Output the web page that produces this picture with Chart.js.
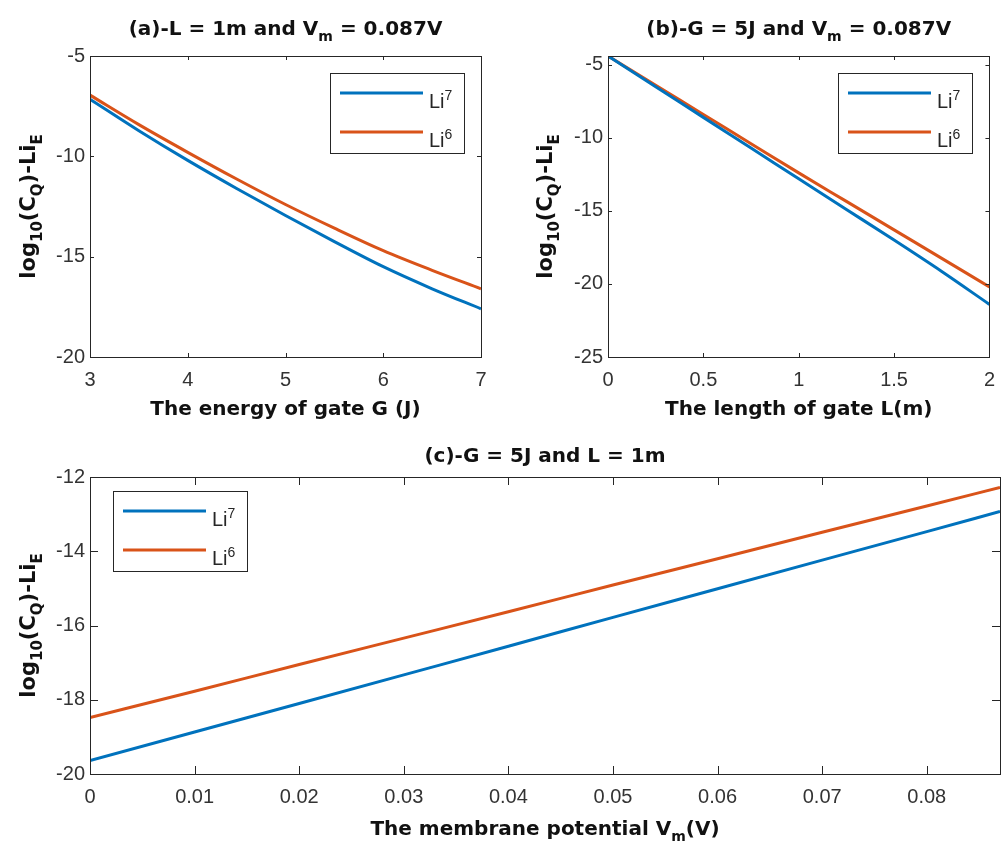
<!DOCTYPE html>
<html>
<head>
<meta charset="utf-8">
<script src="https://cdn.jsdelivr.net/npm/chart.js@4.4.1/dist/chart.umd.min.js"></script>
<style>
  html, body { margin: 0; padding: 0; background: #fff; }
  #wrap { position: relative; width: 1006px; height: 843px; overflow: hidden; background: #fff; }
  #wrap canvas { position: absolute; }
</style>
</head>
<body>
<div id="wrap">
  <canvas id="panelA" width="500" height="430" style="left:0;top:0"></canvas>
  <canvas id="panelB" width="506" height="430" style="left:500px;top:0"></canvas>
  <canvas id="panelC" width="1006" height="423" style="left:0;top:420px"></canvas>
</div>
<script>
// ---- (a) sweep of the gate energy G, with L = 1 m and Vm = 0.087 V ----
const energyG   = [3, 3.5, 4, 4.5, 5, 5.5, 6, 6.5, 7];
const energyLi7 = [-7.15, -8.72, -10.2, -11.6, -12.95, -14.25, -15.5, -16.6, -17.6];
const energyLi6 = [-6.95, -8.42, -9.8, -11.13, -12.4, -13.58, -14.7, -15.68, -16.6];
const energyTicksX = [3, 4, 5, 6, 7];
const energyTicksY = [-20, -15, -10, -5];

// ---- (b) sweep of the gate length L, with G = 5 J and Vm = 0.087 V ----
const lengthL   = [0, 0.25, 0.5, 0.75, 1, 1.25, 1.5, 1.75, 2];
const lengthLi7 = [-4.4, -6.5, -8.6, -10.7, -12.8, -14.9, -17.0, -19.15, -21.4];
const lengthLi6 = [-4.4, -6.4, -8.4, -10.4, -12.4, -14.35, -16.3, -18.25, -20.2];
const lengthTicksX = [0, 0.5, 1, 1.5, 2];
const lengthTicksY = [-25, -20, -15, -10, -5];

// ---- (c) sweep of the membrane potential Vm, with G = 5 J and L = 1 m ----
const potentialV   = [0, 0.01, 0.02, 0.03, 0.04, 0.05, 0.06, 0.07, 0.08, 0.087];
const potentialLi7 = [-19.64, -18.87, -18.10, -17.33, -16.56, -15.78, -15.01, -14.24, -13.47, -12.93];
const potentialLi6 = [-18.48, -17.77, -17.05, -16.34, -15.63, -14.91, -14.20, -13.49, -12.78, -12.28];
const potentialTicksX = [0, 0.01, 0.02, 0.03, 0.04, 0.05, 0.06, 0.07, 0.08];
const potentialTicksY = [-20, -18, -16, -14, -12];

const seriesNames = ['Li^{7}', 'Li^{6}'];
const seriesColors = ['#0072BD', '#D95319'];

const AXIS_COLOR = '#262626';
const BOLD_FAMILY = '"DejaVu Sans", "Liberation Sans", sans-serif';
const PLAIN_FAMILY = '"Liberation Sans", Arial, sans-serif';

// Split "a_{b}c^{d}" into runs of normal, subscript and superscript text
function parseRich(str) {
  const segs = [];
  let buf = '', i = 0;
  while (i < str.length) {
    const c = str[i];
    if ((c === '_' || c === '^') && str[i + 1] === '{') {
      if (buf) { segs.push({ t: buf, m: 0 }); buf = ''; }
      const end = str.indexOf('}', i);
      segs.push({ t: str.slice(i + 2, end), m: c === '_' ? 1 : -1 });
      i = end + 1;
    } else { buf += c; i++; }
  }
  if (buf) segs.push({ t: buf, m: 0 });
  return segs;
}

function drawRich(ctx, str, x, y, f, align) {
  const segs = parseRich(str);
  const fontOf = m => `${f.weight} ${m ? Math.round(f.size * 0.72) : f.size}px ${f.family}`;
  let w = 0;
  segs.forEach(s => { ctx.font = fontOf(s.m); s.w = ctx.measureText(s.t).width; w += s.w; });
  let cx = align === 'center' ? x - w / 2 : align === 'right' ? x - w : x;
  ctx.textAlign = 'left';
  ctx.textBaseline = 'alphabetic';
  segs.forEach(s => {
    ctx.font = fontOf(s.m);
    const dy = s.m === 1 ? f.size * 0.32 : s.m === -1 ? -f.size * 0.42 : 0;
    ctx.fillText(s.t, cx, y + dy);
    cx += s.w;
  });
  return w;
}

function measureRich(ctx, str, f) {
  let w = 0;
  parseRich(str).forEach(s => {
    ctx.font = `${f.weight} ${s.m ? Math.round(f.size * 0.72) : f.size}px ${f.family}`;
    w += ctx.measureText(s.t).width;
  });
  return w;
}

// Boxed axes with inward ticks on all four sides, titles and an inset legend
const matlabFrame = {
  id: 'matlabFrame',
  afterDatasetsDraw(chart, args, o) {
    const { ctx, chartArea: a, scales: { x, y } } = chart;
    ctx.save();
    ctx.strokeStyle = AXIS_COLOR;
    ctx.lineWidth = 1;
    ctx.beginPath();
    x.ticks.forEach(t => {
      const px = Math.round(x.getPixelForValue(t.value)) + 0.5;
      ctx.moveTo(px, a.bottom); ctx.lineTo(px, a.bottom - o.tickLen);
      ctx.moveTo(px, a.top); ctx.lineTo(px, a.top + o.tickLen);
    });
    y.ticks.forEach(t => {
      const py = Math.round(y.getPixelForValue(t.value)) + 0.5;
      ctx.moveTo(a.left, py); ctx.lineTo(a.left + o.tickLen, py);
      ctx.moveTo(a.right, py); ctx.lineTo(a.right - o.tickLen, py);
    });
    ctx.stroke();
    const L = Math.round(a.left) + 0.5, T = Math.round(a.top) + 0.5;
    ctx.strokeRect(L, T, Math.round(a.right - a.left), Math.round(a.bottom - a.top));

    ctx.fillStyle = '#111';
    const boldF = { weight: 'bold', size: 20, family: BOLD_FAMILY };
    const cx = (a.left + a.right) / 2;
    drawRich(ctx, o.title, cx, o.titleY, boldF, 'center');
    drawRich(ctx, o.xLabel, cx, o.xLabelY, boldF, 'center');
    ctx.save();
    ctx.translate(o.yLabelX, (a.top + a.bottom) / 2);
    ctx.rotate(-Math.PI / 2);
    drawRich(ctx, o.yLabel, 0, 0, { weight: 'bold', size: 21, family: BOLD_FAMILY }, 'center');
    ctx.restore();

    // legend
    const lg = o.legend;
    const textF = { weight: 'normal', size: 20, family: PLAIN_FAMILY };
    const sets = chart.data.datasets;
    let tw = 0;
    sets.forEach(d => { tw = Math.max(tw, measureRich(ctx, d.label, textF)); });
    const bw = Math.round(10 + 83 + 6 + tw + 12), bh = 80;
    const bx = lg.corner === 'ne' ? Math.round(a.right - lg.dx - bw) : Math.round(a.left + lg.dx);
    const by = Math.round(a.top + lg.dy);
    ctx.fillStyle = '#fff';
    ctx.fillRect(bx, by, bw, bh);
    ctx.strokeStyle = AXIS_COLOR;
    ctx.lineWidth = 1;
    ctx.strokeRect(bx + 0.5, by + 0.5, bw, bh);
    sets.forEach((d, i) => {
      const ly = by + 20 + i * 39;
      ctx.strokeStyle = d.borderColor;
      ctx.lineWidth = d.borderWidth;
      ctx.beginPath();
      ctx.moveTo(bx + 10, ly); ctx.lineTo(bx + 93, ly);
      ctx.stroke();
      ctx.fillStyle = AXIS_COLOR;
      drawRich(ctx, d.label, bx + 99, ly + 15, textF, 'left');
    });
    ctx.restore();
  }
};

function makePanel(id, xs, s7, s6, cfg) {
  const sets = [s7, s6].map((s, k) => ({
    label: seriesNames[k],
    data: xs.map((v, i) => ({ x: v, y: s[i] })),
    borderColor: seriesColors[k],
    backgroundColor: seriesColors[k],
    borderWidth: 3,
    pointRadius: 0,
    fill: false,
    cubicInterpolationMode: 'monotone'
  }));
  const tickFont = { family: PLAIN_FAMILY, size: 20 };
  return new Chart(document.getElementById(id), {
    type: 'line',
    data: { datasets: sets },
    options: {
      responsive: false,
      animation: false,
      devicePixelRatio: 1,
      layout: { padding: { top: cfg.padTop, right: cfg.padRight, left: 0, bottom: 0 } },
      plugins: {
        legend: { display: false },
        tooltip: { enabled: false },
        matlabFrame: cfg.frame
      },
      scales: {
        x: {
          type: 'linear', min: cfg.xMin, max: cfg.xMax,
          afterBuildTicks: s => { s.ticks = cfg.xTicks.map(v => ({ value: v })); },
          afterFit: s => { s.height = cfg.xAxisH; },
          grid: { display: false, drawTicks: false },
          border: { display: false },
          ticks: { padding: 11, color: '#333', font: tickFont, maxRotation: 0, autoSkip: false, callback: v => String(v) }
        },
        y: {
          type: 'linear', min: cfg.yMin, max: cfg.yMax,
          afterBuildTicks: s => { s.ticks = cfg.yTicks.map(v => ({ value: v })); },
          afterFit: s => { s.width = cfg.yAxisW; },
          grid: { display: false, drawTicks: false },
          border: { display: false },
          ticks: { padding: 5, color: '#333', font: tickFont, autoSkip: false, callback: v => String(v) }
        }
      }
    },
    plugins: [matlabFrame]
  });
}

makePanel('panelA', energyG, energyLi7, energyLi6, {
  xMin: 3, xMax: 7, yMin: -20, yMax: -5,
  xTicks: energyTicksX, yTicks: energyTicksY,
  padTop: 56, padRight: 19, yAxisW: 90, xAxisH: 73,
  frame: {
    tickLen: 4,
    title: '(a)-L = 1m and V_{m} = 0.087V', titleY: 35,
    xLabel: 'The energy of gate G (J)', xLabelY: 415,
    yLabel: 'log_{10}(C_{Q})-Li_{E}', yLabelX: 35,
    legend: { corner: 'ne', dx: 17, dy: 17 }
  }
});

makePanel('panelB', lengthL, lengthLi7, lengthLi6, {
  xMin: 0, xMax: 2, yMin: -25, yMax: -4.4,
  xTicks: lengthTicksX, yTicks: lengthTicksY,
  padTop: 56, padRight: 6, yAxisW: 108, xAxisH: 73,
  frame: {
    tickLen: 4,
    title: '(b)-G = 5J and V_{m} = 0.087V', titleY: 35,
    xLabel: 'The length of gate L(m)', xLabelY: 415,
    yLabel: 'log_{10}(C_{Q})-Li_{E}', yLabelX: 52,
    legend: { corner: 'ne', dx: 17, dy: 17 }
  }
});

makePanel('panelC', potentialV, potentialLi7, potentialLi6, {
  xMin: 0, xMax: 0.087, yMin: -20, yMax: -12,
  xTicks: potentialTicksX, yTicks: potentialTicksY,
  padTop: 57, padRight: 6, yAxisW: 90, xAxisH: 69,
  frame: {
    tickLen: 8,
    title: '(c)-G = 5J and L = 1m', titleY: 42,
    xLabel: 'The membrane potential V_{m}(V)', xLabelY: 415,
    yLabel: 'log_{10}(C_{Q})-Li_{E}', yLabelX: 35,
    legend: { corner: 'nw', dx: 23, dy: 14 }
  }
});
</script>
</body>
</html>
